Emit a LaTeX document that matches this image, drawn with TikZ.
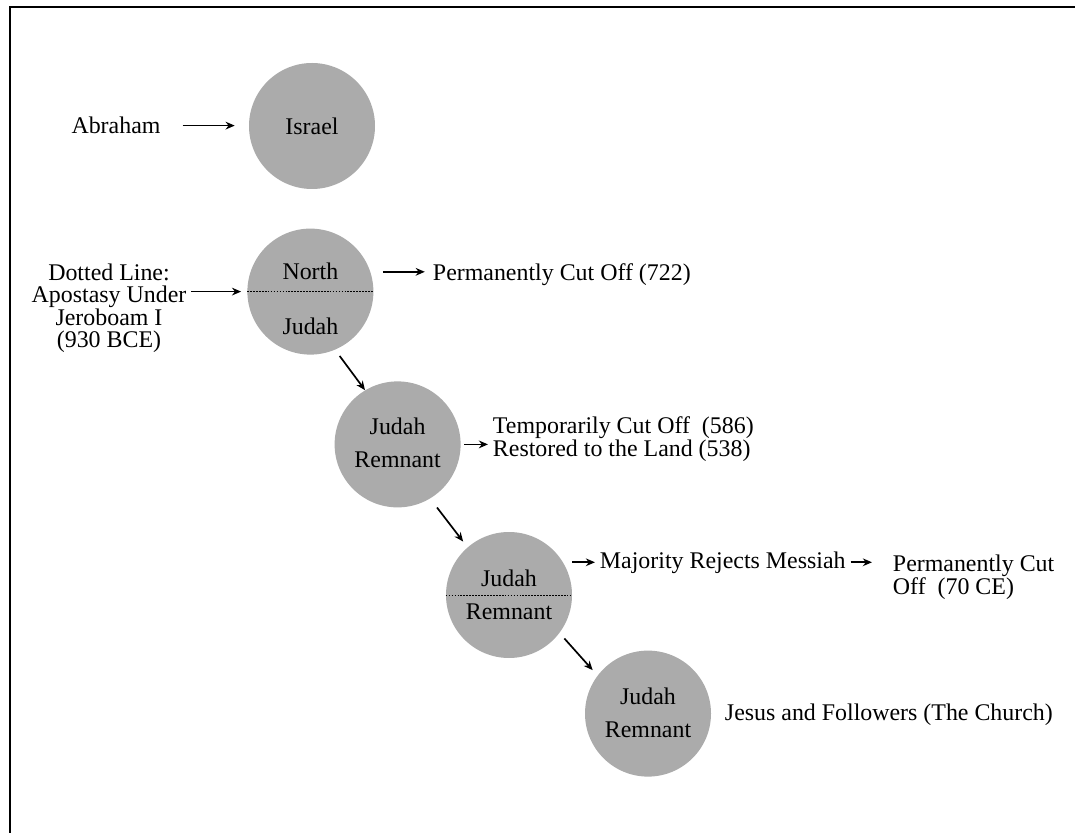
\documentclass[tikz,border=0pt]{standalone}
\usepackage{fontspec}
\setmainfont{Liberation Serif}
\usepackage{xcolor}
\usetikzlibrary{arrows.meta}
\definecolor{tribegray}{HTML}{ABABAB}

\begin{document}
\begin{tikzpicture}[
    every node/.style={font=\fontsize{17}{15.9}\selectfont},
    tribe/.style={circle, fill=tribegray, minimum size=3.15cm, inner sep=0pt},
    lbl/.style={anchor=base},
    note/.style={align=left},
    divider/.style={dash pattern=on 1.2pt off 0.9pt, line width=0.7pt},
    arrow/.style={-{Stealth[length=6.5pt,width=5.5pt]}, line width=1.2pt},
]
\useasboundingbox (0,0) rectangle (26.875,-20.825);
\draw[line width=1.8pt] (0.25,-20.825) -- (0.25,-0.175) -- (26.875,-0.175);

\node[tribe] (israel) at (7.8,-3.15) {Israel};
\node (abraham) at (2.9,-3.14) {Abraham};

\node[tribe] (nj) at (7.76,-7.29) {};
\draw[divider] (nj.west) -- (nj.east);
\node[lbl] (north) at (7.76,-7.0) {North};
\node[lbl] (judah) at (7.76,-8.375) {Judah};
\node[align=center] (dotted) at (2.725,-7.71) {Dotted Line:\\Apostasy Under\\Jeroboam I\\(930 BCE)};
\node[anchor=base west] (cut722) at (10.7,-7.025) {Permanently Cut Off (722)};

\node[tribe] (jr1) at (9.94,-11.11) {};
\node[lbl] (rem1a) at (9.94,-10.875) {Judah};
\node[lbl] (rem1b) at (9.94,-11.7) {Remnant};
\node[note, anchor=west] (restored) at (12.2,-10.98) {Temporarily Cut Off\ \ (586)\\Restored to the Land (538)};

\node[tribe] (jr2) at (12.725,-14.875) {};
\draw[divider] (jr2.west) -- (jr2.east);
\node[lbl] (rem2a) at (12.725,-14.65) {Judah};
\node[lbl] (rem2b) at (12.725,-15.475) {Remnant};
\node[anchor=base west] (majority) at (14.875,-14.2) {Majority Rejects Messiah};
\node[note, anchor=west] (cut70) at (22.2,-14.43) {Permanently Cut\\Off\ \ (70 CE)};

\node[tribe] (jr3) at (16.2,-17.84) {};
\node[lbl] (rem3a) at (16.2,-17.6) {Judah};
\node[lbl] (rem3b) at (16.2,-18.425) {Remnant};
\node[anchor=base west] (church) at (18.0,-18.0) {Jesus and Followers (The Church)};

\draw[arrow, shorten <=0.43cm, shorten >=0.35cm] (abraham.east) -- (abraham.east -| israel.west);
\draw[arrow, shorten >=0.15cm] (dotted.east |- nj.west) -- (nj.west);
\draw[arrow, shorten <=0.23cm, shorten >=0.08cm] (north -| nj.east) -- (north -| cut722.west);
\draw[arrow, shorten <=0.19cm] (nj.-67) -- (jr1.121);
\draw[arrow, shorten <=0.08cm] (jr1.east) -- (jr1.east -| restored.west);
\draw[arrow, shorten <=0.28cm, shorten >=0.18cm] (jr1.-59) -- (jr2.131);
\draw[arrow] (jr2.east |- majority.west) -- (majority.west);
\draw[arrow, shorten >=0.4cm] (majority.east) -- (majority.east -| cut70.west);
\draw[arrow, shorten <=0.18cm, shorten >=0.18cm] (jr2.-37) -- (jr3.143);
\end{tikzpicture}
\end{document}
